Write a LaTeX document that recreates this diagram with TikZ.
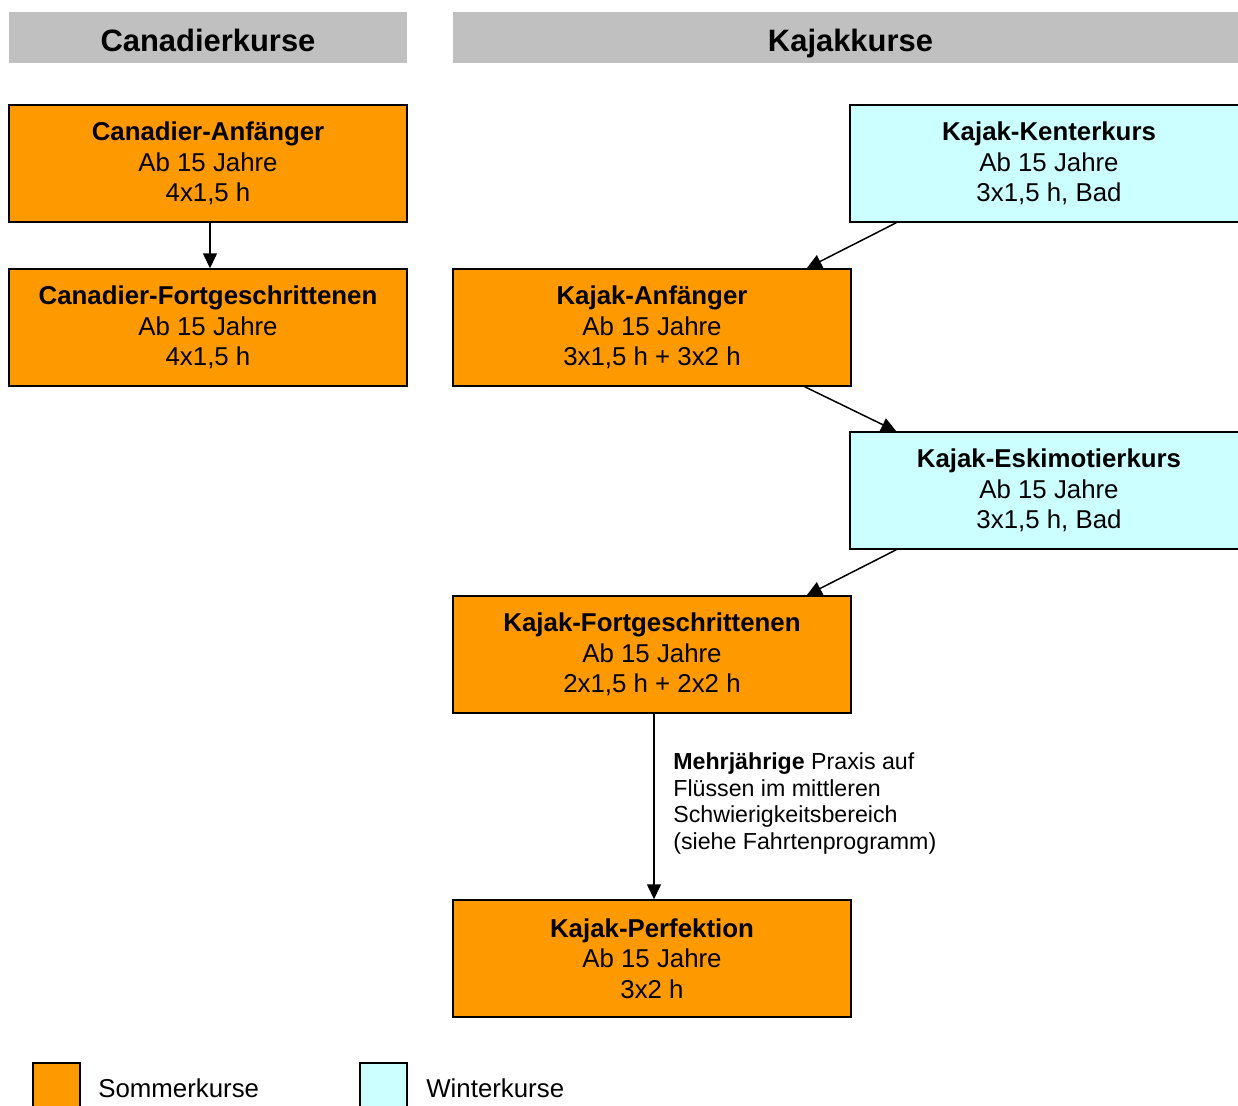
\documentclass[tikz,border=0pt]{standalone}
\usepackage{fontspec}
\setmainfont{Liberation Sans}
\usepackage{xcolor}
\usetikzlibrary{arrows.meta}
\definecolor{headgray}{HTML}{C0C0C0}
\definecolor{summerorange}{HTML}{FF9900}
\definecolor{wintercyan}{HTML}{CCFFFF}

\begin{document}
\begin{tikzpicture}[
    x=0.02cm, y=-0.02cm,
    header/.style = {
        fill=headgray,
        minimum height=1.02cm,
        inner sep=0pt,
        text height=15.4pt,
        text depth=0pt,
        font=\fontsize{17.6}{20}\selectfont\bfseries
    },
    course/.style = {
        draw=black,
        line width=0.85pt,
        minimum width=7.96cm,
        minimum height=2.34cm,
        inner sep=0pt,
        align=center,
        font=\fontsize{14.7}{17.3}\selectfont
    },
    summer/.style = {
        course,
        fill=summerorange
    },
    winter/.style = {
        course,
        fill=wintercyan
    },
    trans/.style = {line width=0.85pt, -{Triangle[length=0.3cm,width=0.28cm]}},
    note/.style = {
        inner sep=0pt,
        align=left,
        font=\fontsize{13.2}{15.3}\selectfont
    },
    legendbox/.style = {
        draw=black,
        line width=0.85pt,
        minimum width=0.94cm,
        minimum height=0.94cm,
        inner sep=0pt
    },
    legendtext/.style = {
        inner sep=0pt,
        font=\fontsize{14.7}{17.3}\selectfont
    }
]
    \useasboundingbox (0,0) rectangle (1238,1106);

    % Column headers
    \node[header, minimum width=7.96cm] (canhead) at (208,37.5) {Canadierkurse};
    \node[header, minimum width=15.9cm] (kajhead) at (850.5,37.5) {Kajakkurse};

    % Canadier courses
    \node[summer] (canbeg) at (208,163.5) {\textbf{Canadier-Anfänger}\\Ab 15 Jahre\\4x1,5 h};
    \node[summer] (canfort) at (208,327.5) {\textbf{Canadier-Fortgeschrittenen}\\Ab 15 Jahre\\4x1,5 h};

    % Kajak courses
    \node[winter] (kenter) at (1049,163.5) {\textbf{Kajak-Kenterkurs}\\Ab 15 Jahre\\3x1,5 h, Bad};
    \node[summer] (kanf) at (652,327.5) {\textbf{Kajak-Anfänger}\\Ab 15 Jahre\\3x1,5 h + 3x2 h};
    \node[winter] (eskimo) at (1049,490.5) {\textbf{Kajak-Eskimotierkurs}\\Ab 15 Jahre\\3x1,5 h, Bad};
    \node[summer] (kfort) at (652,654.5) {\textbf{Kajak-Fortgeschrittenen}\\Ab 15 Jahre\\2x1,5 h + 2x2 h};
    \node[summer] (perf) at (652,958.5) {\textbf{Kajak-Perfektion}\\Ab 15 Jahre\\3x2 h};

    \node[note, anchor=north west] (praxis) at (673,752) {\textbf{Mehrjährige} Praxis auf\\Flüssen im mittleren\\Schwierigkeitsbereich\\(siehe Fahrtenprogramm)};

    % Transitions
    \draw[trans] ([xshift=0.04cm]canbeg.south) -- ([xshift=0.04cm]canfort.north);
    \draw[trans] ([xshift=0.94cm]kenter.south west) -- ([xshift=-0.9cm]kanf.north east);
    \draw[trans] ([xshift=-0.94cm]kanf.south east) -- ([xshift=0.94cm]eskimo.north west);
    \draw[trans] ([xshift=0.94cm]eskimo.south west) -- ([xshift=-0.9cm]kfort.north east);
    \draw[trans] ([xshift=0.04cm]kfort.south) -- ([xshift=0.04cm]perf.north);

    % Legend
    \node[legendbox, fill=summerorange] (sommerbox) at (56.5,1086.5) {};
    \node[legendtext, anchor=base west] (sommer) at (98,1097) {Sommerkurse};
    \node[legendbox, fill=wintercyan] (winterbox) at (383.5,1086.5) {};
    \node[legendtext, anchor=base west] (winter) at (426,1097) {Winterkurse};
\end{tikzpicture}
\end{document}
